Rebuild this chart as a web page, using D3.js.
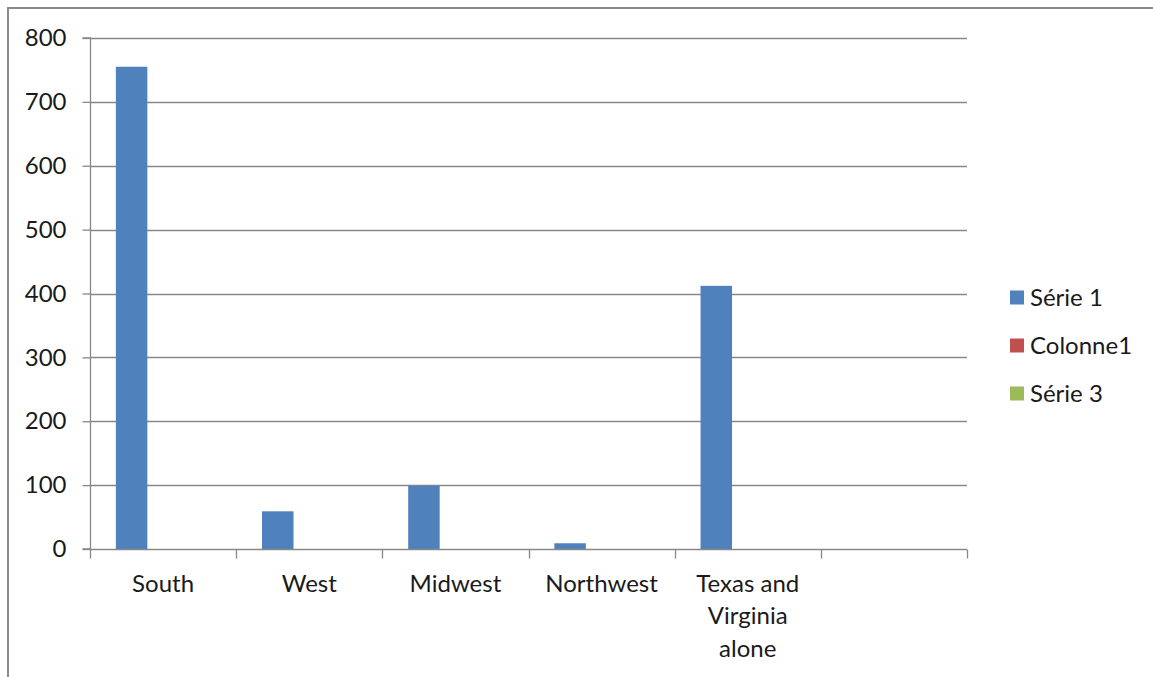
<!DOCTYPE html>
<html>
<head>
<meta charset="utf-8">
<script src="https://cdn.jsdelivr.net/npm/d3@7"></script>
<style>
  html, body { margin: 0; padding: 0; background: #fff; }
  svg { display: block; }
  text { font-family: Lato, "Liberation Sans", sans-serif; fill: #1a1a1a; }
</style>
</head>
<body>
<svg id="chart" width="1153" height="677"></svg>
<script>
const categories = ["South", "West", "Midwest", "Northwest", "Texas and\nVirginia\nalone", ""];
const seriesNames = ["Série 1", "Colonne1", "Série 3"];
const serie1 = [755, 59, 99, 9, 412, null];
const colonne1 = [null, null, null, null, null, null];
const serie3 = [null, null, null, null, null, null];
const colors = ["#4F81BD", "#C0504D", "#9BBB59"];
const yTicks = [0, 100, 200, 300, 400, 500, 600, 700, 800];

const svg = d3.select("#chart");
const W = 1153, H = 677;
const m = { left: 90, right: 967, top: 38, bottom: 549 };
const fontSize = 24;

// outer border (chart area frame)
svg.append("rect").attr("x", 8).attr("y", 8).attr("width", W).attr("height", H)
  .attr("fill", "none").attr("stroke", "#8a8a8a").attr("stroke-width", 2);

const x = d3.scaleBand().domain(d3.range(categories.length)).range([m.left, m.right]).paddingInner(0).paddingOuter(0);
const y = d3.scaleLinear().domain([0, 800]).range([m.bottom, m.top]);

const grey = "#888888";

// gridlines
svg.append("g").selectAll("line").data(yTicks.filter(d => d > 0)).join("line")
  .attr("x1", m.left).attr("x2", m.right)
  .attr("y1", d => Math.round(y(d)) + 0.5).attr("y2", d => Math.round(y(d)) + 0.5)
  .attr("stroke", grey).attr("stroke-width", 1.3);

// bars
const seriesData = [serie1, colonne1, serie3];
const bw = x.bandwidth() / 4.5;
seriesData.forEach((vals, si) => {
  svg.append("g").selectAll("rect").data(vals.map((v, i) => ({ v, i })).filter(d => d.v != null)).join("rect")
    .attr("x", d => x(d.i) + bw * 0.75 + si * bw + 1.5)
    .attr("width", bw - 1)
    .attr("y", d => y(d.v))
    .attr("height", d => y(0) - y(d.v))
    .attr("fill", colors[si]);
});

// y axis
const yAxis = svg.append("g").attr("transform", `translate(${m.left + 0.5},0)`)
  .call(d3.axisLeft(y).tickValues(yTicks).tickSize(8).tickPadding(16).tickFormat(d3.format("d")));
yAxis.select(".domain").attr("stroke", grey).attr("stroke-width", 1.3).attr("d", `M-8,${m.top}H0V${m.bottom}H-8`);
yAxis.selectAll(".tick line").attr("stroke", grey).attr("stroke-width", 1.3);
yAxis.selectAll(".tick text").style("font-size", fontSize + "px").attr("fill", "#1a1a1a")
  .style("font-family", "Lato, 'Liberation Sans', sans-serif");

// x axis
const xAxisG = svg.append("g").attr("transform", `translate(0,${m.bottom + 0.5})`);
xAxisG.append("line").attr("x1", m.left).attr("x2", m.right).attr("stroke", grey).attr("stroke-width", 1.3);
const bounds = d3.range(categories.length + 1).map(i => i < categories.length ? x(i) : m.right);
xAxisG.selectAll("line.tk").data(bounds).join("line").attr("class", "tk")
  .attr("x1", d => Math.round(d) + 0.5).attr("x2", d => Math.round(d) + 0.5)
  .attr("y1", 0).attr("y2", 9).attr("stroke", grey).attr("stroke-width", 1.3);

const labels = svg.append("g").selectAll("text").data(categories).join("text")
  .attr("x", (d, i) => x(i) + x.bandwidth() / 2)
  .attr("y", 583.5)
  .attr("text-anchor", "middle")
  .style("font-size", fontSize + "px");
labels.each(function(d) {
  const t = d3.select(this);
  d.split("\n").forEach((line, li) => {
    t.append("tspan").attr("x", t.attr("x")).attr("dy", li === 0 ? "0.35em" : 32.5).text(line);
  });
});

// legend
const lg = svg.append("g").selectAll("g").data(seriesNames).join("g")
  .attr("transform", (d, i) => `translate(1010,${297.5 + i * 48})`);
lg.append("rect").attr("x", 0).attr("y", -7).attr("width", 14).attr("height", 14).attr("fill", (d, i) => colors[i]);
lg.append("text").attr("x", 20).attr("dy", "0.35em").style("font-size", fontSize + "px").text(d => d);
</script>
</body>
</html>
